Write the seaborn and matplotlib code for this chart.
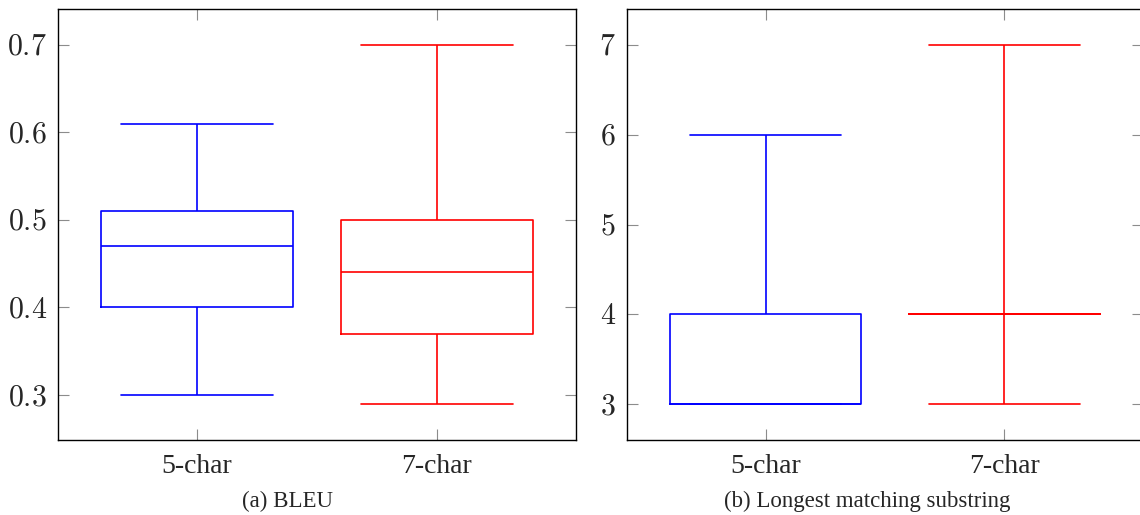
import matplotlib
matplotlib.use("Agg")
import matplotlib.pyplot as plt
import matplotlib.ticker as mticker
import pandas as pd
import seaborn as sns

# values (min, q1, median, q3, max)
categories = ["5-char", "7-char"]
bleu_5char = [0.30, 0.40, 0.47, 0.51, 0.61]
bleu_7char = [0.29, 0.37, 0.44, 0.50, 0.70]
lms_5char = [3, 3, 3, 4, 6]
lms_7char = [3, 4, 4, 4, 7]
colors = ["#0000ff", "#ff0000"]
captions = ["(a) BLEU", "(b) Longest matching substring"]


def long_frame(first, second):
    return pd.DataFrame({
        "method": [categories[0]] * len(first) + [categories[1]] * len(second),
        "value": list(first) + list(second),
    })


sns.set_style("ticks")
plt.rcParams["font.family"] = ["Liberation Serif", "DejaVu Serif"]
plt.rcParams["mathtext.fontset"] = "cm"

fig = plt.figure(figsize=(11.4, 5.15), dpi=100)
ax_a = fig.add_axes([58 / 1140, 1 - 440 / 515, 518 / 1140, 431 / 515])
ax_b = fig.add_axes([627 / 1140, 1 - 440 / 515, 516 / 1140, 431 / 515])

panels = [
    (ax_a, long_frame(bleu_5char, bleu_7char), (0.2486, 0.741), [0.3, 0.4, 0.5, 0.6, 0.7], "${:.1f}$"),
    (ax_b, long_frame(lms_5char, lms_7char), (2.60, 7.40), [3, 4, 5, 6, 7], "${:.0f}$"),
]

for ax, df, ylim, yticks, fmt in panels:
    sns.boxplot(data=df, x="method", y="value", hue="method", palette=colors,
                fill=False, width=0.8, whis=(0, 100), capwidths=0.633,
                linewidth=1.2, showfliers=False, legend=False, ax=ax)
    ax.set_xlim(-0.58, 1.58)
    ax.set_ylim(*ylim)
    ax.set_yticks(yticks)
    ax.yaxis.set_major_formatter(mticker.FuncFormatter(lambda v, p, f=fmt: f.format(v)))
    ax.set_xlabel("")
    ax.set_ylabel("")
    ax.tick_params(direction="in", length=8, width=0.8, color="#8c8c8c",
                   top=True, right=True, pad=8)
    ax.tick_params(axis="y", labelsize=21.5)
    ax.tick_params(axis="x", labelsize=20, pad=10)
    for spine in ax.spines.values():
        spine.set_visible(True)
        spine.set_color("black")
        spine.set_linewidth(1.0)
    ax.grid(False)

fig.text(288 / 1140, 1 - 501 / 515, captions[0], ha="center", va="center", fontsize=16.5)
fig.text(867 / 1140, 1 - 501 / 515, captions[1], ha="center", va="center", fontsize=16.5)

fig.savefig("out.png", dpi=100)
